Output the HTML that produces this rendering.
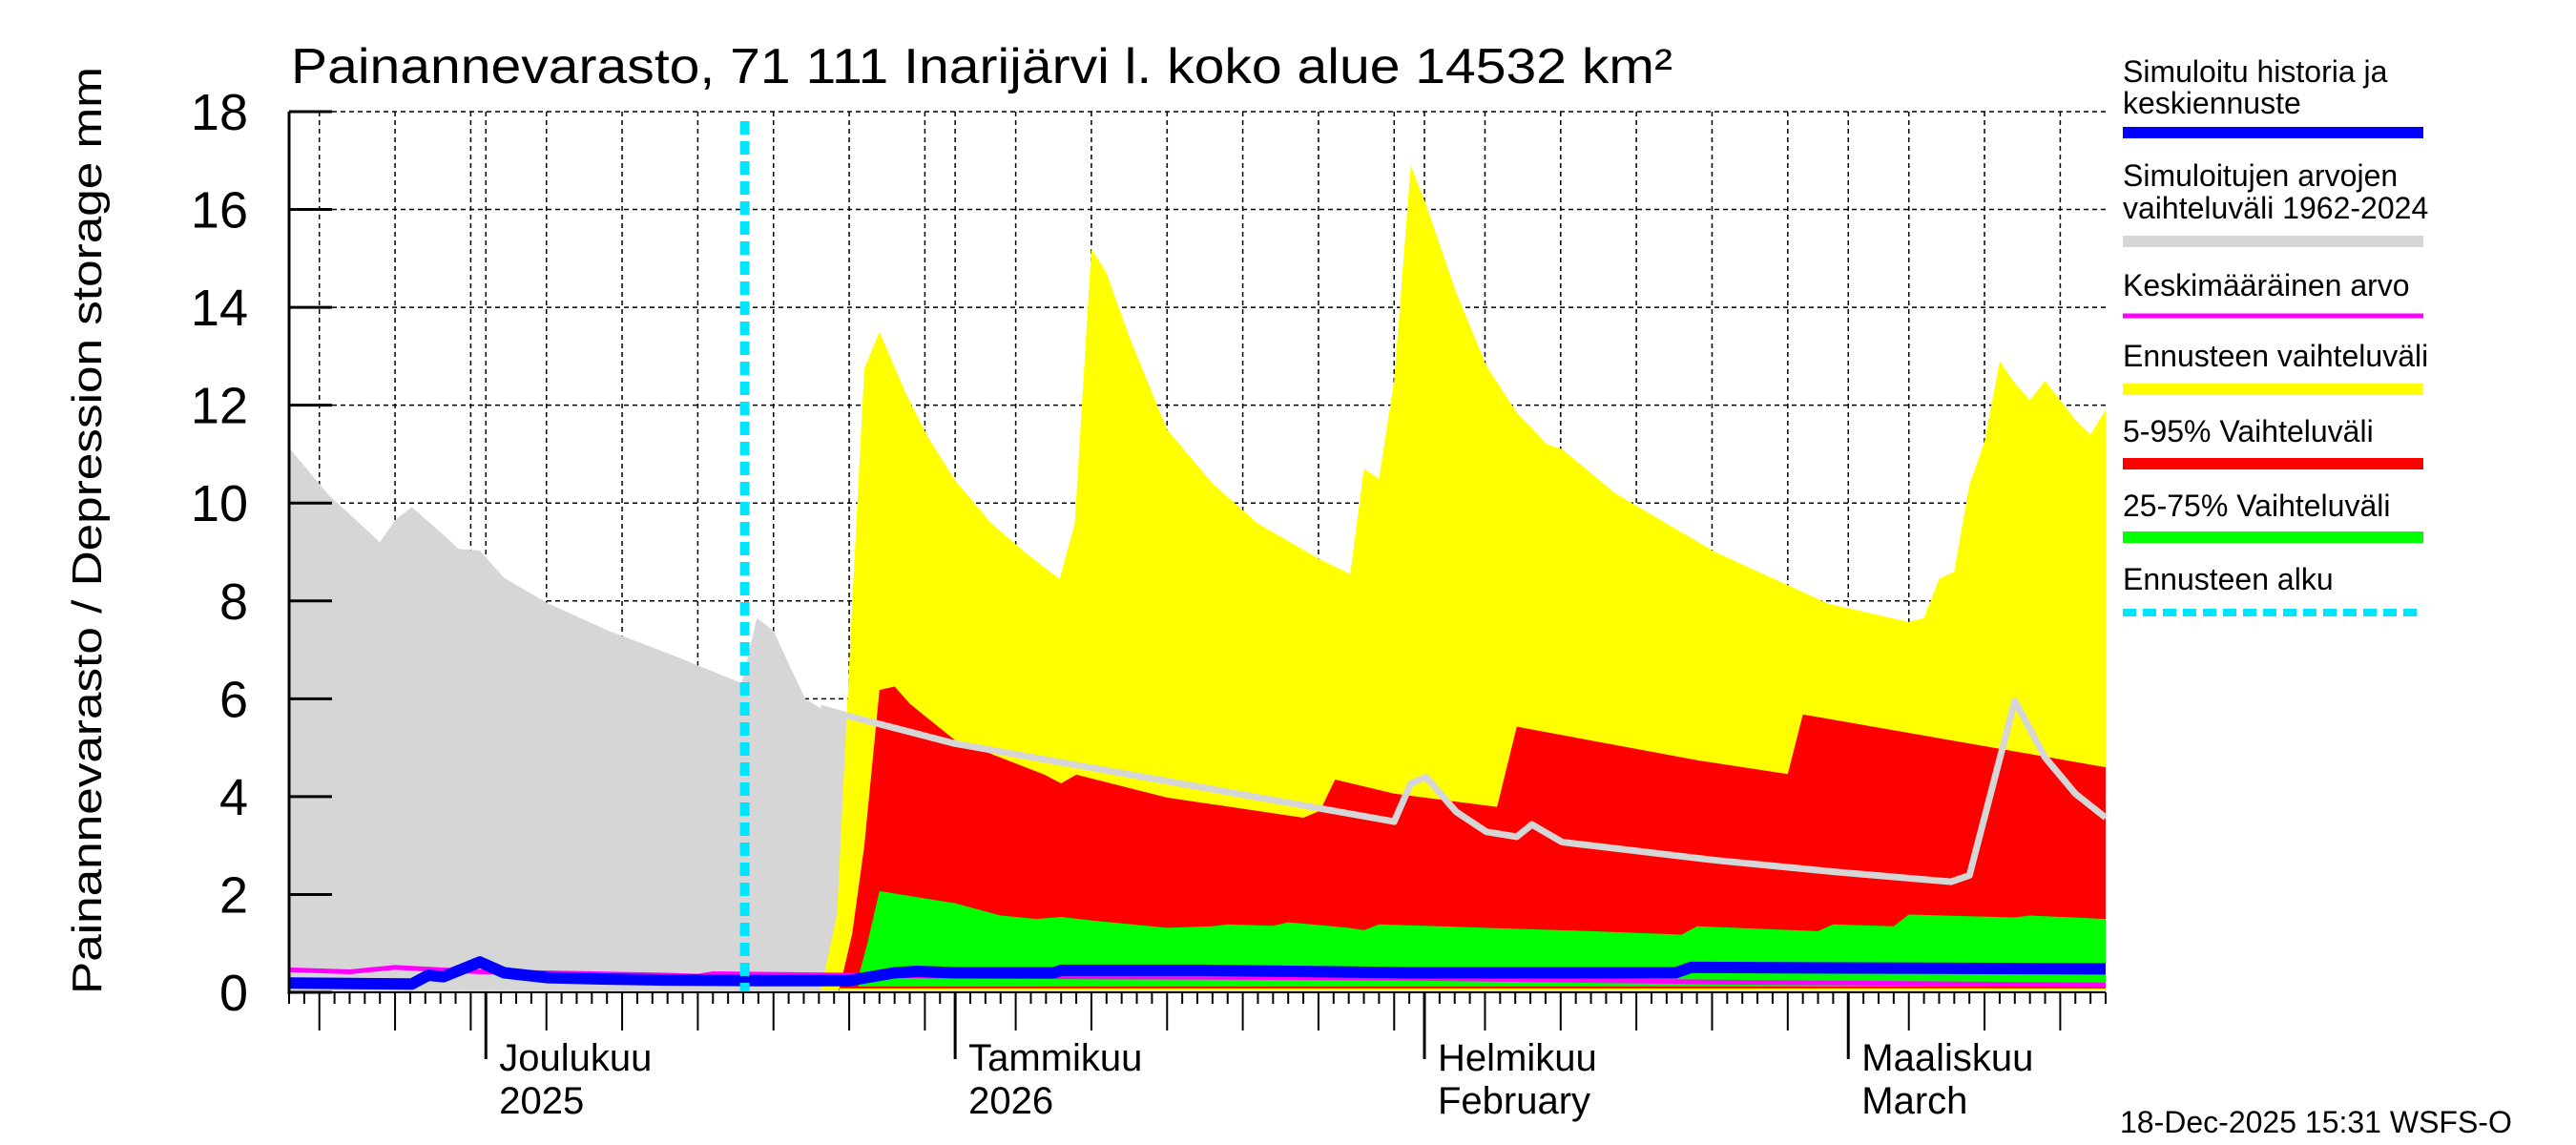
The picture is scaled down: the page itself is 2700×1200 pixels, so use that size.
<!DOCTYPE html>
<html><head><meta charset="utf-8"><style>
html,body{margin:0;padding:0;background:#fff}
svg{display:block}
text{font-family:"Liberation Sans",sans-serif;fill:#000}
</style></head><body>
<svg id="chart" width="2700" height="1200" xmlns="http://www.w3.org/2000/svg">
<text x="305" y="87" font-size="52" textLength="1448" lengthAdjust="spacingAndGlyphs">Painannevarasto, 71 111 Inarijärvi l. koko alue 14532 km²</text>
<text transform="translate(106,1042) rotate(-90)" font-size="44" textLength="972" lengthAdjust="spacingAndGlyphs">Painannevarasto / Depression storage    mm</text>
<g id="grid"></g>
<g id="series"></g>
<g id="axes"></g>
<g id="legend"></g>
<text x="2222" y="1187" font-size="32">18-Dec-2025 15:31 WSFS-O</text>
</svg>
<script>
// ---- data (day index 0 = 18 Nov 2025) ----
const histRangeDays = [0,2.6,6,7,8.1,10.2,11.2,12.6,14.2,17.1,21.1,25.1,29.9,30.9,32,33.1,34.1,35.1,36.8,43.9,73,74.1,75.1,77.1,79.1,81.1,82.1,84.1,94.2,102.2,109.8,111,114,116,118,120];
const histRangeMax = [11.13,10.17,9.2,9.65,9.92,9.35,9.06,9.03,8.47,7.95,7.39,6.92,6.32,7.65,7.39,6.65,6.0,5.81,5.66,5.09,3.49,4.27,4.40,3.69,3.28,3.18,3.43,3.07,2.70,2.46,2.26,2.39,5.96,4.80,4.06,3.57];
const yellowDays = [35.1,36.2,37.2,38,39,40.8,42.2,44,46.4,48.9,50.9,51.9,53,54,55.5,58,61,64,68.1,70.1,71,72,73,74.1,75.1,77.1,79.1,81.1,83.1,84.1,87.6,94.2,101.7,107,108,109,110,111,112,113,114,115,116,118,119,120];
const yellowMax = [0,1.6,7.95,12.75,13.5,12.2,11.35,10.46,9.58,8.92,8.45,9.58,15.2,14.7,13.4,11.5,10.4,9.58,8.85,8.55,10.7,10.5,12.5,16.9,16.1,14.3,12.8,11.85,11.2,11.1,10.2,9.0,7.94,7.57,7.65,8.45,8.6,10.37,11.26,12.9,12.45,12.1,12.5,11.7,11.4,11.9];
const redDays = [36.3,37.2,38,39,40,41,42.2,44,46.4,49.9,51,52,58,67,68.1,69.1,73,79.8,81.1,92.9,99,100,120];
const redMax = [0,1.2,3.0,6.18,6.25,5.9,5.6,5.15,4.87,4.45,4.27,4.45,3.98,3.57,3.71,4.35,4.06,3.79,5.43,4.75,4.46,5.68,4.6];
const greenDays = [37.6,38.2,39,41,44,47,49.4,51,53,58,61,62,65,66,70,71,72,79,86,92,93,101,102,106,107,114,115,120];
const greenMax = [0.3,1.0,2.07,1.97,1.82,1.57,1.5,1.54,1.47,1.32,1.35,1.39,1.36,1.43,1.32,1.27,1.39,1.32,1.25,1.18,1.35,1.25,1.39,1.35,1.59,1.53,1.57,1.5];
const blueDays = [0,8.1,9.2,10.2,12.6,14.2,17.1,21,25,31,37,40,41.5,44,50.5,51,60.5,74,91.6,92.6,120];
const blueVals = [0.19,0.17,0.35,0.32,0.62,0.4,0.3,0.27,0.25,0.24,0.24,0.4,0.43,0.4,0.4,0.45,0.45,0.4,0.4,0.51,0.48];
const meanDays = [0,4,7,12.6,17,25,27,28,44,74,94,120];
const meanVals = [0.46,0.42,0.51,0.42,0.4,0.35,0.33,0.38,0.33,0.29,0.21,0.15];
const forecastStartDay = 30.1;
const yTicks = [0,2,4,6,8,10,12,14,16,18];
const monthLabels = [["Joulukuu","2025"],["Tammikuu","2026"],["Helmikuu","February"],["Maaliskuu","March"]];
const nDays = 120;

// ---- axes ----
const X0=303, X1=2207, Y0=1040, Y1=117;
const xs = d => X0 + d*(X1-X0)/nDays;
const ys = v => Y0 - v*(Y0-Y1)/18;
const NS="http://www.w3.org/2000/svg";
function mk(tag, parent, attrs){const e=document.createElementNS(NS,tag);for(const k in attrs)e.setAttribute(k,attrs[k]);parent.appendChild(e);return e;}
const grid=document.getElementById('grid'), ser=document.getElementById('series'), axes=document.getElementById('axes'), leg=document.getElementById('legend');

yTicks.forEach(v=>{
  if(v>0){const g=mk('line',grid,{x1:X0,x2:X1,y1:ys(v),y2:ys(v),stroke:'#000','stroke-width':1.5,'stroke-dasharray':'5,4'});
  
  }
  const t=mk('line',axes,{x1:X0,x2:X0+45,y1:ys(v),y2:ys(v),stroke:'#000','stroke-width':3});
  
  
  const l=mk('text',axes,{x:260,y:ys(v)+19,'font-size':54,'text-anchor':'end'});
  l.textContent=v;
  
  
});
const start=new Date(2025,10,18);
let mi=0;
for(let d=0; d<=nDays; d++){
  const dt=new Date(start.getTime()+d*86400000);
  const dom=dt.getDate();
  const x=xs(d);
  let len=12;
  if(dom===1){len=70;}
  else if(dom%5===0){len=40;}
  if(dom===1||dom%5===0){
    const g=mk('line',grid,{x1:x,x2:x,y1:Y1,y2:Y0,stroke:'#000','stroke-width':1.5,'stroke-dasharray':'5,4'});
    
    
  }
  const t=mk('line',axes,{x1:x,x2:x,y1:Y0,y2:Y0+len,stroke:'#000','stroke-width':dom===1?3:2});
  
  
  if(dom===1 && mi<monthLabels.length){
    const a=mk('text',axes,{x:x+14,y:1122,'font-size':40});a.textContent=monthLabels[mi][0];
    
    
    const b=mk('text',axes,{x:x+14,y:1167,'font-size':40});b.textContent=monthLabels[mi][1];
    
    
    mi++;
  }
}
function area(days, vals, base, fill, name){
  let p=days.map((d,i)=>xs(d)+','+ys(vals[i])).join(' ');
  p+=' '+xs(days[days.length-1])+','+ys(base)+' '+xs(days[0])+','+ys(base);
  const e=mk('polygon',ser,{points:p,fill:fill});
  
  
}
function line(days, vals, color, w, name){
  const e=mk('polyline',ser,{points:days.map((d,i)=>xs(d)+','+ys(vals[i])).join(' '),fill:'none',stroke:color,'stroke-width':w,'stroke-linejoin':'round'});
  
  
}
area(histRangeDays,histRangeMax,0,'#d6d6d6','historical-range-area');
area(yellowDays,yellowMax,0.05,'#ffff00','forecast-range-area');
area(redDays,redMax,0.08,'#ff0000','range-5-95-area');
area(greenDays,greenMax,0.12,'#00ff00','range-25-75-area');
const cut=histRangeDays.findIndex(d=>d>=35);
line(histRangeDays.slice(cut),histRangeMax.slice(cut),'#d6d6d6',7,'historical-range-max-line');
line(meanDays,meanVals,'#ff00ff',5,'mean-line');
line(blueDays,blueVals,'#0000ff',12,'simulated-median-line');
const c=mk('line',ser,{x1:xs(forecastStartDay),x2:xs(forecastStartDay),y1:Y1+10,y2:Y0,stroke:'#00e5ff','stroke-width':10,'stroke-dasharray':'14,7'});


mk('line',axes,{x1:X0,x2:X0,y1:Y1,y2:Y0+2,stroke:'#000','stroke-width':3});
mk('line',axes,{x1:X0,x2:X1,y1:Y0,y2:Y0,stroke:'#000','stroke-width':2});
const legendItems=[
 [['Simuloitu historia ja','keskiennuste'],[86,119],139,'#0000ff',12,null],
 [['Simuloitujen arvojen','vaihteluväli 1962-2024'],[195,229],253,'#d6d6d6',12,null],
 [['Keskimääräinen arvo'],[310],331,'#ff00ff',5,null],
 [['Ennusteen vaihteluväli'],[384],408,'#ffff00',12,null],
 [['5-95% Vaihteluväli'],[463],486,'#ff0000',12,null],
 [['25-75% Vaihteluväli'],[541],563,'#00ff00',12,null],
 [['Ennusteen alku'],[618],642,'#00e5ff',8,'14,7']
];
legendItems.forEach(it=>{
  const g=mk('g',leg,{});
  
  
  it[0].forEach((s,i)=>{const t=mk('text',g,{x:2225,y:it[1][i],'font-size':32});t.textContent=s;});
  const a={x1:2225,x2:2540,y1:it[2],y2:it[2],stroke:it[3],'stroke-width':it[4]};
  if(it[5])a['stroke-dasharray']=it[5];
  mk('line',g,a);
});
</script>
</body></html>
